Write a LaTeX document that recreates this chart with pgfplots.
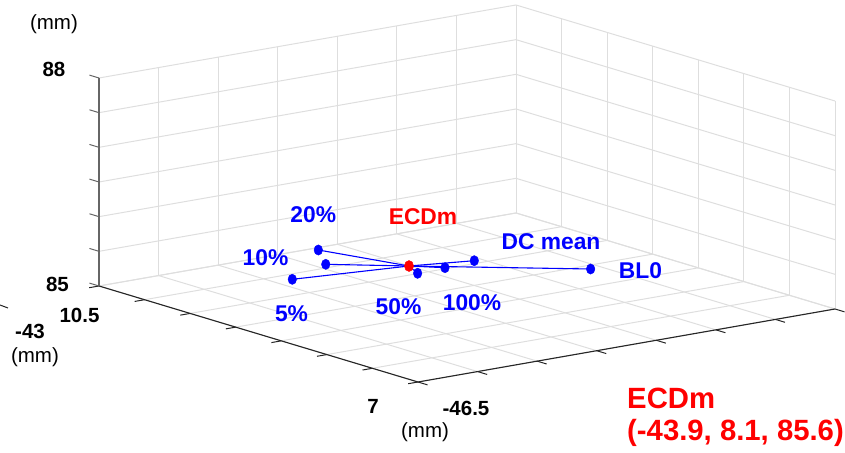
\documentclass[border=0pt]{standalone}
\usepackage{fontspec}
\setmainfont{Liberation Sans}
\usepackage{pgfplots}
\pgfplotsset{compat=1.18}
\definecolor{gridgray}{RGB}{222,222,222}
\definecolor{axgray}{RGB}{38,38,38}
\begin{document}
\begin{tikzpicture}
\begin{axis}[
  x={(119.14pt,20.86pt)}, y={(-91.14pt,27.43pt)}, z={(0pt,69.33pt)},
  xmin=-46.5, xmax=-43, ymin=7, ymax=10.5, zmin=85, zmax=88,
  xtick={-46.5,-46,-45.5,-45,-44.5,-44,-43.5,-43},
  ytick={7,7.5,8,8.5,9,9.5,10,10.5},
  ztick={85,85.5,86,86.5,87,87.5,88},
  xticklabels={}, yticklabels={}, zticklabels={},
  major tick length=0pt,
  grid=major, grid style={draw=gridgray, line width=1pt},
  axis line style={draw=none},
  clip=false,
]
% star lines from ECDm to every condition
\addplot3[blue, line width=1.1pt, no marks] coordinates {(-45.236,8.751,85.6) (-45.435,9.486,85.6)};
\addplot3[blue, line width=1.1pt, no marks] coordinates {(-45.236,8.751,85.6) (-45.648,9.126,85.6)};
\addplot3[blue, line width=1.1pt, no marks] coordinates {(-45.236,8.751,85.6) (-46.090,8.915,85.6)};
\addplot3[blue, line width=1.1pt, no marks] coordinates {(-45.236,8.751,85.6) (-45.319,8.548,85.6)};
\addplot3[blue, line width=1.1pt, no marks] coordinates {(-45.236,8.751,85.6) (-45.075,8.567,85.6)};
\addplot3[blue, line width=1.1pt, no marks] coordinates {(-45.236,8.751,85.6) (-44.796,8.610,85.6)};
\addplot3[blue, line width=1.1pt, no marks] coordinates {(-45.236,8.751,85.6) (-44.325,7.949,85.6)};
% condition points
\addplot3[only marks, mark=*, blue, mark size=4.3pt, mark options={yscale=1.2}] coordinates {
(-45.435,9.486,85.6) (-45.648,9.126,85.6) (-46.090,8.915,85.6) (-45.319,8.548,85.6)
(-45.075,8.567,85.6) (-44.796,8.610,85.6) (-44.325,7.949,85.6)};
% ECDm
\addplot3[only marks, mark=*, red, mark size=4.6pt, mark options={yscale=1.2}] coordinates {(-45.236,8.751,85.6)};
% axis lines
\draw[axgray, line width=1.1pt] (axis cs:-46.5,10.5,85) -- (axis cs:-46.5,7,85) -- (axis cs:-43,7,85);
\draw[black!60, line width=1.1pt] (axis cs:-46.5,10.5,85) -- (axis cs:-46.5,10.5,88);
% tick marks
\pgfplotsinvokeforeach{-46.5,-46,-45.5,-45,-44.5,-44,-43.5,-43}{
  \draw[axgray, line width=1pt] (axis cs:#1,7,85) -- (axis cs:#1,6.895,85);}
\pgfplotsinvokeforeach{7,7.5,8,8.5,9,9.5,10,10.5}{
  \draw[axgray, line width=1pt] (axis cs:-46.5,#1,85) -- (axis cs:-46.583,#1,85);}
\pgfplotsinvokeforeach{85,85.5,86,86.5,87,87.5,88}{
  \draw[black!60, line width=1pt] (axis cs:-46.5,10.5,#1) -- (axis cs:-46.5,10.605,#1);}
\coordinate (B) at (axis cs:-46.5,7,85);
\end{axis}
\coordinate (O) at ([shift={(-418pt,-70pt)}]B);
\pgfresetboundingbox
\useasboundingbox (O) rectangle ([shift={(845pt,452pt)}]O);
% tick labels
\begin{scope}[every node/.style={inner sep=0pt, font=\fontsize{20.5}{24}\selectfont}]
\node at ([shift={(54pt,383pt)}]O) {\textbf{88}};
\node at ([shift={(57.5pt,167.5pt)}]O) {\textbf{85}};
\node at ([shift={(54pt,428pt)}]O) {(mm)};
\node at ([shift={(79.5pt,136.5pt)}]O) {\textbf{10.5}};
\node at ([shift={(30pt,120.5pt)}]O) {\textbf{-43}};
\node at ([shift={(35pt,94.5pt)}]O) {(mm)};
\node at ([shift={(373pt,45.5pt)}]O) {\textbf{7}};
\node at ([shift={(466pt,43.5pt)}]O) {\textbf{-46.5}};
\node at ([shift={(425pt,19.5pt)}]O) {(mm)};
\node[anchor=west] at ([shift={(844pt,94pt)}]O) {(mm)};
\end{scope}
\draw[axgray, line width=1pt] ([shift={(0pt,147pt)}]O) -- ([shift={(8pt,144pt)}]O);
% data labels
\begin{scope}[every node/.style={inner sep=0pt, text=blue, font=\fontsize{22.8}{26}\selectfont\bfseries}]
\node at ([shift={(313.3pt,237.5pt)}]O) {20\%};
\node at ([shift={(265.5pt,194pt)}]O) {10\%};
\node at ([shift={(291.5pt,138.5pt)}]O) {5\%};
\node at ([shift={(398.5pt,145.5pt)}]O) {50\%};
\node at ([shift={(472pt,149.5pt)}]O) {100\%};
\node at ([shift={(551pt,210.5pt)}]O) {DC mean};
\node at ([shift={(640.5pt,181pt)}]O) {BL0};
\node[text=red] at ([shift={(423pt,235.5pt)}]O) {ECDm};
\end{scope}
\begin{scope}[every node/.style={inner sep=0pt, text=red, anchor=base west, font=\fontsize{29.3}{32}\selectfont\bfseries}]
\node at ([shift={(627pt,43.7pt)}]O) {ECDm};
\node at ([shift={(627pt,12pt)}]O) {(-43.9, 8.1, 85.6)};
\end{scope}
\end{tikzpicture}
\end{document}
